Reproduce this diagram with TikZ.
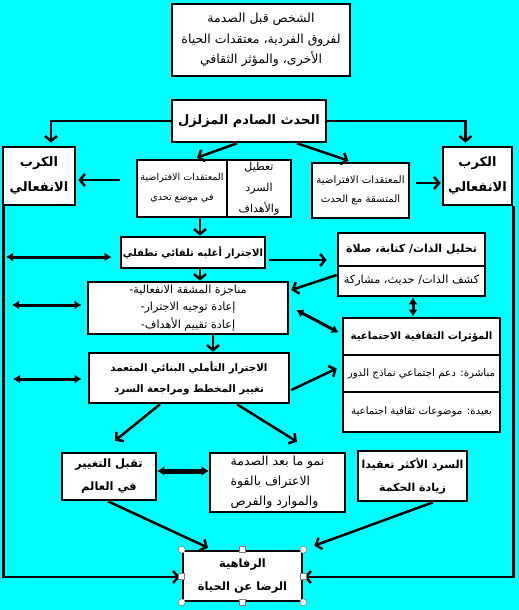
\documentclass[tikz,border=0pt]{standalone}
\usepackage{fontspec}
\usetikzlibrary{arrows.meta,calc}
\TeXXeTstate=1
\newfontfamily\arabicfont[Script=Arabic]{DejaVu Sans}
\newcommand{\AR}[1]{\beginR #1\endR}
\definecolor{bgcyan}{RGB}{0,255,255}
\tikzset{
  box/.style={draw=black, fill=white, line width=2.6pt, rectangle, inner sep=1pt, align=center},
  bb/.style={font=\arabicfont\bfseries\fontsize{13}{25}\selectfont},
  arr/.style={line width=2.5pt, -{Straight Barb[length=5pt,width=12pt]}},
  darr/.style={line width=3pt, {Latex[length=7pt,width=9pt]}-{Latex[length=7pt,width=9pt]}},
  handlec/.style={draw=gray, fill=white, line width=0.6pt, circle, inner sep=0pt, minimum size=7pt},
  handles/.style={draw=gray, fill=white, line width=0.6pt, rectangle, inner sep=0pt, minimum size=6pt}
}
\begin{document}
\begin{tikzpicture}[x=1pt,y=-1pt]
\path[fill=bgcyan] (0,0) rectangle (519,610);
\useasboundingbox (0,0) rectangle (519,610);

% nodes
\node[box, font=\arabicfont\fontsize{12.5}{20.5}\selectfont, minimum width=178pt, minimum height=72pt] (top) at (261,40)
  {\AR{الشخص قبل الصدمة}\\\AR{لفروق الفردية، معتقدات الحياة}\\\AR{الأخرى، والمؤثر الثقافي}};
\node[box, bb, minimum width=154pt, minimum height=42pt] (event) at (249,121) {\AR{الحدث الصادم المزلزل}};
\node[box, bb, minimum width=72pt, minimum height=58pt] (kl) at (39,176) {\AR{الكرب}\\\AR{الانفعالي}};
\node[box, bb, minimum width=69pt, minimum height=58pt] (kr) at (477.5,176) {\AR{الكرب}\\\AR{الانفعالي}};
\node[box, font=\arabicfont\fontsize{9.6}{20}\selectfont, minimum width=90pt, minimum height=57pt] (bch) at (182,188.5)
  {\AR{المعتقدات الافتراضية}\\\AR{في موضع تحدي}};
\node[box, font=\arabicfont\fontsize{11}{21}\selectfont, minimum width=64pt, minimum height=57pt] (disr) at (259,188.5)
  {\AR{تعطيل}\\\AR{السرد}\\\AR{والأهداف}};
\node[box, font=\arabicfont\fontsize{10.2}{19}\selectfont, minimum width=97pt, minimum height=55pt] (bcons) at (360.5,190.5)
  {\AR{المعتقدات الافتراضية}\\\AR{المتسقة مع الحدث}};
\node[box, font=\arabicfont\bfseries\fontsize{10}{20}\selectfont, minimum width=144pt, minimum height=31pt] (rum) at (193,252.5)
  {\AR{الاجترار أغلبه تلقائي تطفلي}};
\node[box, font=\arabicfont\bfseries\fontsize{11}{20}\selectfont, minimum width=147pt, minimum height=33pt] (selfA) at (411.5,249.5)
  {\AR{تحليل الذات/ كتابة، صلاة}};
\node[box, font=\arabicfont\fontsize{11.3}{20}\selectfont, minimum width=147pt, minimum height=30pt] (selfB) at (411.5,281)
  {\AR{كشف الذات/ حديث، مشاركة}};
\node[box, font=\arabicfont\fontsize{11.2}{17.5}\selectfont, minimum width=200pt, minimum height=52pt] (list) at (188,308)
  {\AR{مناجزة المشقة الانفعالية-}\\\AR{إعادة توجيه الاجترار-}\\\AR{إعادة تقييم الأهداف-}};
\node[box, font=\arabicfont\bfseries\fontsize{10.2}{20}\selectfont, minimum width=157pt, minimum height=37pt] (cultA) at (421.5,336.5)
  {\AR{المؤثرات الثقافية الاجتماعية}};
\node[box, font=\arabicfont\fontsize{10.3}{20}\selectfont, minimum width=157pt, minimum height=37pt] (cultB) at (421.5,373.5)
  {\AR{مباشرة: دعم اجتماعي نماذج الدور}};
\node[box, font=\arabicfont\fontsize{10.3}{20}\selectfont, minimum width=157pt, minimum height=40pt] (cultC) at (421.5,412)
  {\AR{بعيدة: موضوعات ثقافية اجتماعية}};
\node[box, font=\arabicfont\bfseries\fontsize{10.3}{21}\selectfont, minimum width=200pt, minimum height=50pt] (refl) at (189,378)
  {\AR{الاجترار التأملي البنائي المتعمد}\\\AR{تغيير المخطط ومراجعة السرد}};
\node[box, font=\arabicfont\bfseries\fontsize{11.5}{23}\selectfont, minimum width=94pt, minimum height=47pt] (acc) at (109,476.5)
  {\AR{تقبل التغيير}\\\AR{في العالم}};
\node[box, font=\arabicfont\fontsize{12.5}{20}\selectfont, minimum width=135pt, minimum height=59pt, align=left] (grow) at (277.5,482.5)
  {\AR{نمو ما بعد الصدمة}\\\AR{الاعتراف بالقوة}\\\AR{والموارد والفرص}};
\node[box, font=\arabicfont\bfseries\fontsize{11}{23}\selectfont, minimum width=109pt, minimum height=50pt] (narr) at (412.5,476)
  {\AR{السرد الأكثر تعقيدا}\\\AR{زيادة الحكمة}};
\node[box, font=\arabicfont\bfseries\fontsize{11.5}{23}\selectfont, minimum width=119pt, minimum height=50pt] (well) at (242.5,576)
  {\AR{الرفاهية}\\\AR{الرضا عن الحياة}};

% connectors from the event
\draw[arr] (event.west) -| ($(kl.north)+(12,-3)$);
\draw[arr] (event.east) -| ($(kr.north)+(-12,-3)$);
\draw[arr] ($(event.south)+(-12,0)$) -- ($(bch.north)+(15,-1)$);
\draw[arr] ($(event.south)+(48,0)$) -- ($(bcons.north)+(-12,-1)$);

\coordinate (c1) at (120,180);
\draw[arr] (c1) -- ($(kl.east |- c1)+(2,0)$);
\coordinate (c2) at (416,183);
\draw[arr] (c2) -- ($(kr.west |- c2)+(-1,0)$);

\draw[arr] ($(bch.south)+(18,0)$) -- ($(rum.north)+(7,0)$);
\draw[arr] ($(rum.east)+(3,7.5)$) -- ($(selfA.west)+(-10,10.5)$);
\draw[arr] ($(rum.south)+(7,0)$) -- ($(list.north)+(12,0)$);
\draw[arr] ($(selfB.west)+(0,-6)$) -- ($(list.east)+(2,-18)$);
\draw[darr] ($(selfB.south)+(1.5,0)$) -- ($(cultA.north)+(-8.5,0)$);
\draw[darr] ($(list.east)+(7,2)$) -- ($(cultA.west)+(-3,-4)$);
\draw[arr] ($(list.south)+(25,0)$) -- ($(refl.north)+(24,0)$);
\draw[arr] ($(refl.east)+(1,12)$) -- ($(cultB.west)+(-5,-5)$);
\draw[arr] ($(refl.south)+(-29,0)$) -- ($(acc.north)+(6,-11)$);
\draw[arr] ($(refl.south)+(48,0)$) -- ($(grow.north)+(19.5,-10)$);
\draw[line width=5pt, {Latex[length=7pt,width=10pt]}-{Latex[length=7pt,width=10pt]}] ($(acc.east)+(0,-5.5)$) -- ($(grow.west)+(0,-11.5)$);
\draw[arr] ($(acc.south)+(-1,0)$) -- ($(well.north)+(-34.5,-2)$);
\draw[arr] ($(narr.south)+(20.5,0)$) -- ($(well.north east)+(11,-4)$);

% side double arrows
\coordinate (L1) at (6,257);
\draw[darr] (L1) -- ($(rum.west |- L1)+(-8,0)$);
\coordinate (L2) at (12,305);
\draw[darr] (L2) -- ($(list.west |- L2)+(-5,0)$);
\coordinate (L3) at (13,379);
\draw[darr] (L3) -- ($(refl.west |- L3)+(-6,0)$);

% side feedback lines to wellbeing
\draw[arr] ($(kl.south west)+(2,0)$) |- ($(well.west)+(-2,1)$);
\draw[arr] (kr.south east) |- ($(well.east)+(1,1)$);

% selection handles on the wellbeing box
\foreach \a in {north west, north east, south west, south east}
  \node[handlec] (h-\a) at (well.\a) {};
\foreach \a in {north, south, east, west}
  \node[handles] (s-\a) at (well.\a) {};
\end{tikzpicture}
\end{document}
